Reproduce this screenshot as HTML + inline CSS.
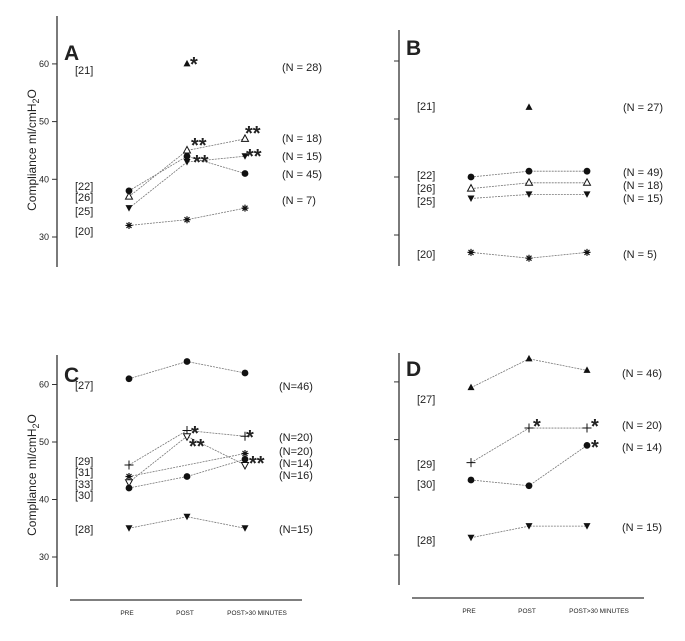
<!DOCTYPE html>
<html><head><meta charset="utf-8"><style>
body{margin:0;background:#fff;}
svg{display:block;font-family:"Liberation Sans",sans-serif;}
</style></head><body>
<svg id="c" width="685" height="641" viewBox="0 0 685 641" xmlns="http://www.w3.org/2000/svg"></svg>
<script>
const timepoints = ["PRE","POST","POST>30 MINUTES"];
// Panel A series
const aSer = [
  {sym:"tri", vals:[null,60,null]},
  {sym:"otri", vals:[37,45,47]},
  {sym:"dot", vals:[38,44,41]},
  {sym:"dtri", vals:[35,43,44]},
  {sym:"ast", vals:[32,33,35]}
];
const aN = ["(N = 28)","(N = 18)","(N = 15)","(N = 45)","(N = 7)"];
// Panel B
const bSer = [
  {sym:"tri", vals:[null,52,null]},
  {sym:"dot", vals:[40,41,41]},
  {sym:"otri", vals:[38,39,39]},
  {sym:"dtri", vals:[36.3,37,37]},
  {sym:"ast", vals:[27,26,27]}
];
const bN = ["(N = 27)","(N = 49)","(N = 18)","(N = 15)","(N = 5)"];
// Panel C
const cSer = [
  {sym:"dot", vals:[61,64,62]},
  {sym:"plus", vals:[46,52,51]},
  {sym:"otriD", vals:[43,51,46]},
  {sym:"ast", vals:[44,null,48]},
  {sym:"dot", vals:[42,44,47]},
  {sym:"dtri", vals:[35,37,35]}
];
const cN = ["(N=46)","(N=20)","(N=20)","(N=14)","(N=16)","(N=15)"];
// Panel D
const dSer = [
  {sym:"tri", vals:[59,64,62]},
  {sym:"plus", vals:[46,52,52]},
  {sym:"dot", vals:[43,42,49]},
  {sym:"dtri", vals:[33,35,35]}
];
const dN = ["(N = 46)","(N = 20)","(N = 14)","(N = 15)"];
const yTicks = [30,40,50,60];

const svg=document.getElementById('c');
const NS="http://www.w3.org/2000/svg";
function el(tag,attrs,parent){const e=document.createElementNS(NS,tag);for(const k in attrs)e.setAttribute(k,attrs[k]);(parent||svg).appendChild(e);return e;}
function txt(x,y,s,size,anchor,weight,parent){const t=el('text',{x:x,y:y,'font-size':size,'text-anchor':anchor||'start','font-weight':weight||'normal',fill:'#222'},parent);t.textContent=s;return t;}

function marker(g,sym,x,y){
  if(sym==="dot") el('circle',{cx:x,cy:y,r:3.4,fill:'#111'},g);
  else if(sym==="tri") el('polygon',{points:`${x},${y-4} ${x-3.5},${y+2.5} ${x+3.5},${y+2.5}`,fill:'#111'},g);
  else if(sym==="otri") el('polygon',{points:`${x},${y-4} ${x-3.5},${y+2.5} ${x+3.5},${y+2.5}`,fill:'#fff',stroke:'#111','stroke-width':1},g);
  else if(sym==="otriD") el('polygon',{points:`${x},${y+4} ${x-3.5},${y-2.5} ${x+3.5},${y-2.5}`,fill:'#fff',stroke:'#111','stroke-width':1},g);
  else if(sym==="dtri") el('polygon',{points:`${x},${y+3.5} ${x-3.5},${y-3} ${x+3.5},${y-3}`,fill:'#111'},g);
  else if(sym==="plus"){el('path',{d:`M${x-4.5} ${y}H${x+4.5}M${x} ${y-4.5}V${y+4.5}`,stroke:'#111','stroke-width':1},g);}
  else if(sym==="ast"){el('path',{d:`M${x-3.5} ${y}H${x+3.5}M${x} ${y-3.5}V${y+3.5}M${x-2.5} ${y-2.5}L${x+2.5} ${y+2.5}M${x-2.5} ${y+2.5}L${x+2.5} ${y-2.5}`,stroke:'#111','stroke-width':1.2},g);}
}

function panel(cfg){
  const g=el('g',{});
  
  
  const yS=v=>cfg.y30-(v-30)*cfg.k;
  const xS=i=>cfg.x0+i*58;
  el('line',{x1:cfg.ax,y1:cfg.axTop,x2:cfg.ax,y2:cfg.axBot,stroke:'#333','stroke-width':1.3},g);
  yTicks.forEach(t=>{
    el('line',{x1:cfg.ax-5,y1:yS(t),x2:cfg.ax,y2:yS(t),stroke:'#333','stroke-width':1},g);
    if(cfg.tickLabels) txt(cfg.ax-8,yS(t)+3,String(t),9,'end','normal',g);
  });
  if(cfg.tickLabels){
    const t=el('text',{transform:`translate(${cfg.ax-21},${cfg.titleY}) rotate(-90)`,'font-size':12,'text-anchor':'middle',fill:'#222'},g);
    
    
    t.innerHTML='Compliance ml/cmH<tspan font-size="9" dy="3">2</tspan><tspan dy="-3">O</tspan>';
  }
  const L=txt(cfg.ax+7,cfg.letterY,cfg.letter,21,'start','bold',g);
  
  
  cfg.series.forEach(s=>{
    const pts=[];
    s.vals.forEach((v,i)=>{if(v!==null)pts.push([xS(i),yS(v)]);});
    if(pts.length>1){
      const p=el('polyline',{points:pts.map(p=>p.join(',')).join(' '),fill:'none',stroke:'#777','stroke-width':0.8,'stroke-dasharray':'2,1'},g);
      
      
    }
    pts.forEach(p=>marker(g,s.sym,p[0],p[1]));
  });
  cfg.refs.forEach(r=>txt(cfg.ax+18,r[1],r[0],11,'start','normal',g));
  cfg.ns.forEach((n,i)=>txt(cfg.nx,cfg.nY[i],n,11,'start','normal',g));
  cfg.stars.forEach(s=>txt(s[0],s[1],s[2],20,'start','bold',g));
  if(cfg.xaxisY){
    el('line',{x1:cfg.ax+13,y1:cfg.xaxisY,x2:cfg.ax+245,y2:cfg.xaxisY,stroke:'#333','stroke-width':1.3},g);
    timepoints.forEach((t,i)=>txt(xS(i)-2+(i==2?14:0),cfg.xaxisY+15,t,6.5,'middle','normal',g));
  }
}

panel({letter:'A',ax:57,axTop:16,axBot:267,y30:237,k:5.77,x0:129,tickLabels:true,titleY:150,letterY:60,
  series:aSer,refs:[["[21]",74],["[22]",190],["[26]",201],["[25]",215],["[20]",235]],
  ns:aN,nx:282,nY:[71,142,160,178,204],
  stars:[[190,71,"*"],[191,152,"**"],[193,169,"**"],[245,140,"**"],[246,163,"**"]]});
panel({letter:'B',ax:399,axTop:30,axBot:266,y30:235,k:5.8,x0:471,tickLabels:false,letterY:55,
  series:bSer,refs:[["[21]",110],["[22]",179],["[26]",192],["[25]",205],["[20]",258]],
  ns:bN,nx:623,nY:[111,176,189,202,258],stars:[]});
panel({letter:'C',ax:57,axTop:355,axBot:587,y30:557,k:5.75,x0:129,tickLabels:true,titleY:475,letterY:382,xaxisY:600,
  series:cSer,refs:[["[27]",389],["[29]",465],["[31]",476],["[33]",488],["[30]",499],["[28]",533]],
  ns:cN,nx:279,nY:[390,441,455,467,479,533],
  stars:[[191,440,"*"],[189,453,"**"],[246,444,"*"],[249,470,"**"]]});
panel({letter:'D',ax:399,axTop:353,axBot:585,y30:555,k:5.77,x0:471,tickLabels:false,letterY:376,xaxisY:598,
  series:dSer,refs:[["[27]",403],["[29]",468],["[30]",488],["[28]",544]],
  ns:dN,nx:622,nY:[377,429,451,531],
  stars:[[533,433,"*"],[591,433,"*"],[591,454,"*"]]});
</script>
</body></html>
